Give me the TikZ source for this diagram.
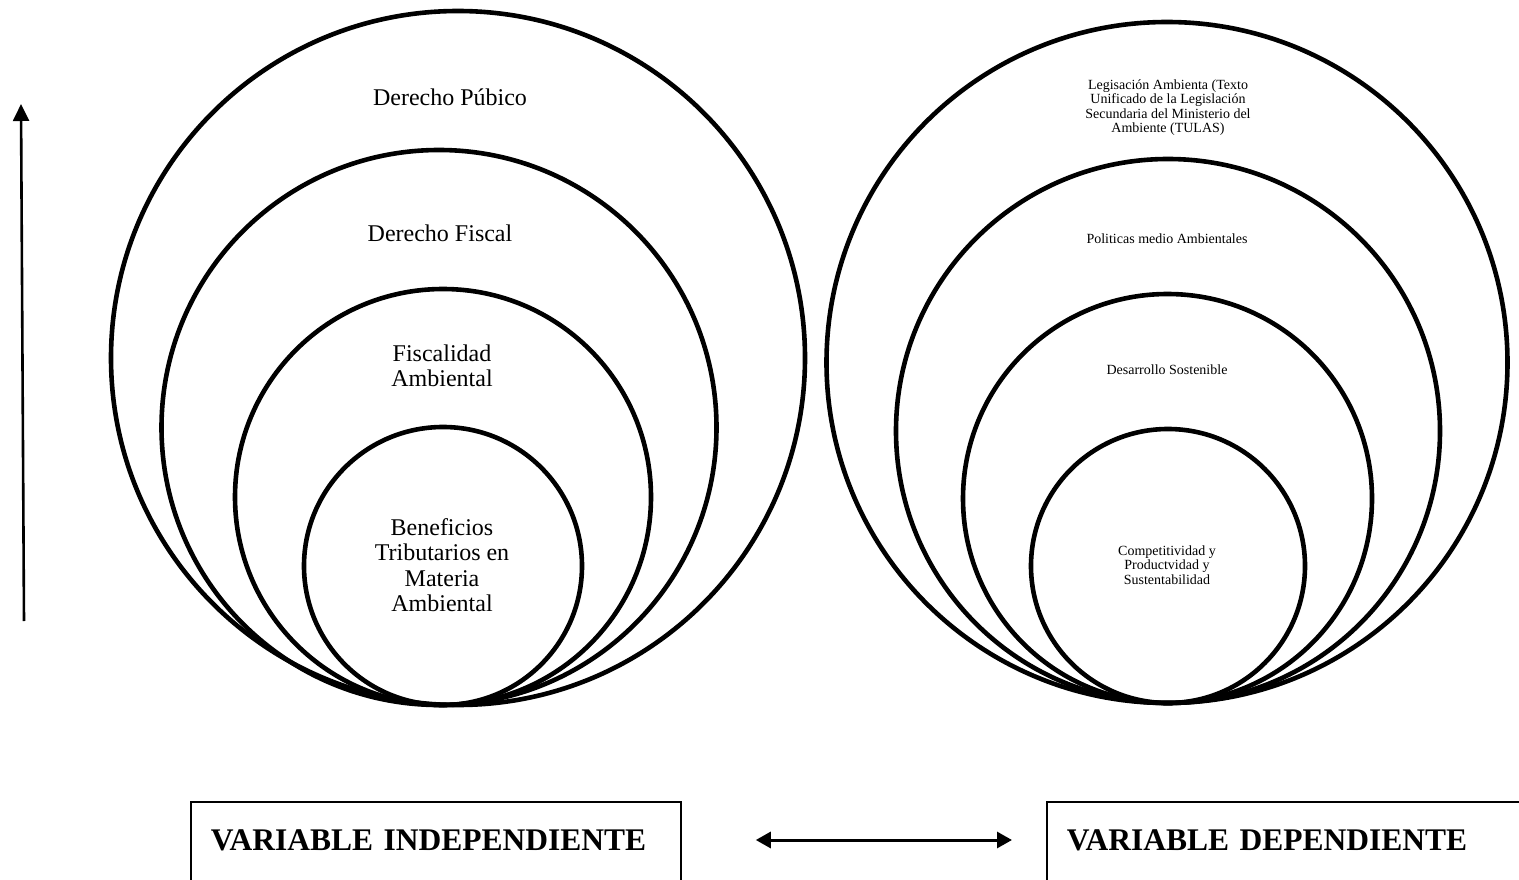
\documentclass[tikz,border=0pt]{standalone}
\usepackage{fontspec}
\setmainfont{Liberation Serif}
\usetikzlibrary{arrows.meta}
\tikzset{
  ring/.style={line width=4.6pt},
  biglbl/.style={font=\fontsize{24}{25.5}\selectfont, align=center},
  smalllbl/.style={font=\fontsize{14}{14.5}\selectfont, align=center},
  varbox/.style={draw, line width=1.8pt, font=\fontsize{31.5}{34}\selectfont\bfseries,
    text width=450pt, align=left, inner xsep=20pt, inner ysep=26pt,
    text height=22pt, text depth=60pt, anchor=base west},
  upar/.style={line width=2.6pt, -{Triangle[width=16pt,length=17pt]}},
  dblar/.style={line width=3pt, {Triangle[width=16pt,length=15pt]}-{Triangle[width=16pt,length=15pt]}}
}
\begin{document}
\begin{tikzpicture}[x=1pt,y=-1pt]
\useasboundingbox (0,0) rectangle (1519,880);
% left circles
\foreach \cx/\cy/\r in {458/358/347, 439/427.5/277.5, 443/497/208, 443/566/139}
  \draw[ring] (\cx,\cy) circle (\r pt);
% right circles
\foreach \cx/\cy/\r in {1167/362.5/340.5, 1168/431/272, 1167.5/498.5/204.5, 1168/566/137}
  \draw[ring] (\cx,\cy) circle (\r pt);
\node[biglbl] (pub) at (450,97) {Derecho Púbico};
\node[biglbl] (fis) at (440,233) {Derecho Fiscal};
\node[biglbl] (amb) at (442,366) {Fiscalidad\\Ambiental};
\node[biglbl] (ben) at (442,565) {Beneficios\\Tributarios en\\Materia\\Ambiental};
\node[smalllbl] (leg) at (1168,107.5) {Legisación Ambienta (Texto\\Unificado de la Legislación\\Secundaria del Ministerio del\\Ambiente (TULAS)};
\node[smalllbl] (pol) at (1167,239) {Politicas medio Ambientales};
\node[smalllbl] (des) at (1167,370) {Desarrollo Sostenible};
\node[smalllbl] (com) at (1167,565) {Competitividad y\\Productvidad y\\Sustentabilidad};
% vertical arrow
\coordinate (up0) at (24,621);
\coordinate (up1) at (21,104);
\draw[upar] (up0) -- (up1);
% variables
\node[varbox] (indep) at (190,850) {VARIABLE INDEPENDIENTE};
\node[varbox] (dep) at (1046,850) {VARIABLE DEPENDIENTE};
\draw[dblar, shorten <=74pt, shorten >=34pt] ([yshift=10pt]indep.base east) -- ([yshift=10pt]dep.base west);
\end{tikzpicture}
\end{document}
